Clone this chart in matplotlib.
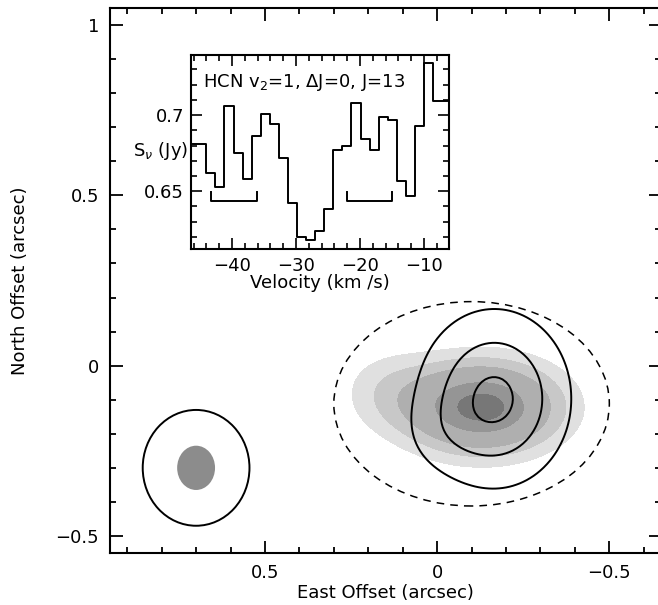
import numpy as np
import matplotlib
matplotlib.use("Agg")
import matplotlib.pyplot as plt
from matplotlib.patches import Ellipse, ConnectionPatch
from matplotlib.ticker import MultipleLocator, FuncFormatter

plt.rcParams['font.family'] = ['DejaVu Sans']

# ---------------- data ----------------
# spectrum (channel centres, km/s) and flux density (Jy)
velocity = [-46.13, -44.71, -43.29, -41.88, -40.46, -39.04, -37.63, -36.21,
            -34.79, -33.38, -31.96, -30.54, -29.13, -27.71, -26.29, -24.88,
            -23.46, -22.04, -20.63, -19.21, -17.79, -16.38, -14.96, -13.54,
            -12.13, -10.71, -9.29, -7.88, -6.46]
flux = [0.681, 0.681, 0.662, 0.653, 0.706, 0.675, 0.658, 0.686,
        0.701, 0.694, 0.672, 0.642, 0.620, 0.618, 0.624, 0.638,
        0.677, 0.680, 0.708, 0.684, 0.677, 0.699, 0.697, 0.657,
        0.647, 0.693, 0.734, 0.709, 0.709]
bracket_ranges = [(-43.2, -36.1), (-22.1, -15.0)]
bracket_level = 0.6436
bracket_tick = 0.6496
spec_label = r'HCN v$_2$=1, $\Delta$J=0, J=13'

# grey-scale map: gaussian components (east offset, north offset, sigmas, amplitude)
grey_x0 = [-0.13, 0.15]
grey_y0 = [-0.122, -0.07]
grey_sx = [0.155, 0.10]
grey_sy = [0.092, 0.085]
grey_amp = [1.0, 0.18]
grey_levels = [0.16, 0.29, 0.44, 0.74, 0.92, 5.0]
grey_colors = ['#e0e0e0', '#c8c8c8', '#afafaf', '#959595', '#777777']

# line-contour map components
line_x0 = [-0.166, 0.0]
line_y0 = [-0.097, -0.20]
line_sx = [0.14, 0.08]
line_sy = [0.165, 0.08]
line_amp = [1.0, 0.12]
line_levels = [0.28, 0.61, 0.93]

# beams
beam_center = (0.70, -0.30)
beam_outer = (0.31, 0.34)
beam_inner = (0.11, 0.13)

# dashed region
region_center = (-0.10, -0.112)
region_size = (0.80, 0.60)
link_left_end = (0.288, -0.196)
link_right_end = (-0.38, 0.10)

xlim = (0.95, -0.65)
ylim = (-0.55, 1.05)

# ---------------- figure ----------------
W, H = 658, 605
fig = plt.figure(figsize=(W / 100, H / 100), dpi=100)


def frac(x0, y0, x1, y1):
    return [x0 / W, 1 - y1 / H, (x1 - x0) / W, (y1 - y0) / H]


ax = fig.add_axes(frac(110, 8, 661, 553))
ax.set_xlim(*xlim)
ax.set_ylim(*ylim)

gx = np.linspace(-0.65, 0.95, 161)
gy = np.linspace(-0.55, 1.05, 161)
X, Y = np.meshgrid(gx, gy)


def field(x0s, y0s, sxs, sys_, amps):
    Z = np.zeros_like(X)
    for x0, y0, sx, sy, a in zip(x0s, y0s, sxs, sys_, amps):
        Z += a * np.exp(-0.5 * (((X - x0) / sx) ** 2 + ((Y - y0) / sy) ** 2))
    return Z


Zg = field(grey_x0, grey_y0, grey_sx, grey_sy, grey_amp)
ax.contourf(X, Y, Zg, levels=grey_levels, colors=grey_colors, zorder=1)
Zl = field(line_x0, line_y0, line_sx, line_sy, line_amp)
ax.contour(X, Y, Zl, levels=line_levels, colors='black', linewidths=1.4, zorder=2)

ax.add_patch(Ellipse(region_center, *region_size, fill=False, ls=(0, (5, 4)),
                     lw=1.1, ec='black', zorder=3))
ax.add_patch(Ellipse(beam_center, *beam_outer, fill=False, lw=1.4, ec='black', zorder=3))
ax.add_patch(Ellipse(beam_center, *beam_inner, fc='#8c8c8c', ec='none', zorder=3))

fmt = FuncFormatter(lambda v, p: ('%g' % round(v, 3)).replace('-', '\u2212'))
ax.xaxis.set_major_locator(MultipleLocator(0.5))
ax.xaxis.set_minor_locator(MultipleLocator(0.1))
ax.yaxis.set_major_locator(MultipleLocator(0.5))
ax.yaxis.set_minor_locator(MultipleLocator(0.1))
ax.xaxis.set_major_formatter(fmt)
ax.yaxis.set_major_formatter(fmt)
ax.tick_params(which='both', direction='in', top=True, right=True, width=1.3)
ax.tick_params(which='major', length=9, labelsize=13)
ax.tick_params(which='minor', length=4.5)
ax.tick_params(axis='x', pad=8)
ax.tick_params(axis='y', pad=8)
for s in ax.spines.values():
    s.set_linewidth(1.5)
ax.set_xlabel('East Offset (arcsec)', fontsize=13, labelpad=1)
ax.set_ylabel('North Offset (arcsec)', fontsize=13, labelpad=19)

# ---------------- inset spectrum ----------------
axi = fig.add_axes(frac(191, 55, 449, 249))
axi.set_xlim(-46.4, -6.1)
axi.set_ylim(0.612, 0.7395)
axi.step(velocity, flux, where='mid', color='black', lw=1.4)
for (a, b) in bracket_ranges:
    axi.plot([a, a, b, b], [bracket_tick, bracket_level, bracket_level, bracket_tick],
             color='black', lw=1.4)
axi.text(0.045, 0.86, spec_label, transform=axi.transAxes, fontsize=13,
         ha='left', va='center')
axi.xaxis.set_major_locator(MultipleLocator(10))
axi.xaxis.set_minor_locator(MultipleLocator(2))
axi.yaxis.set_major_locator(MultipleLocator(0.05))
axi.yaxis.set_minor_locator(MultipleLocator(0.01))
axi.xaxis.set_major_formatter(fmt)
axi.yaxis.set_major_formatter(fmt)
axi.tick_params(which='both', direction='in', top=True, right=True, width=1.2)
axi.tick_params(which='major', length=8, labelsize=13)
axi.tick_params(which='minor', length=4)
axi.tick_params(axis='x', pad=6)
axi.tick_params(axis='y', pad=5)
for s in axi.spines.values():
    s.set_linewidth(1.5)
axi.set_xlabel('Velocity (km /s)', fontsize=13, labelpad=-1)
axi.text(-0.012, 0.505, r'S$_\nu$ (Jy)', transform=axi.transAxes, fontsize=13,
         ha='right', va='center')

# connecting dashed lines
for corner, end in [((0, 0), link_left_end), ((1, 0), link_right_end)]:
    cp = ConnectionPatch(xyA=corner, coordsA=axi.transAxes, xyB=end, coordsB=ax.transData,
                         ls=(0, (5, 4)), lw=1.1, color='black', zorder=0)
    fig.add_artist(cp)

fig.savefig('out.png', dpi=100)
